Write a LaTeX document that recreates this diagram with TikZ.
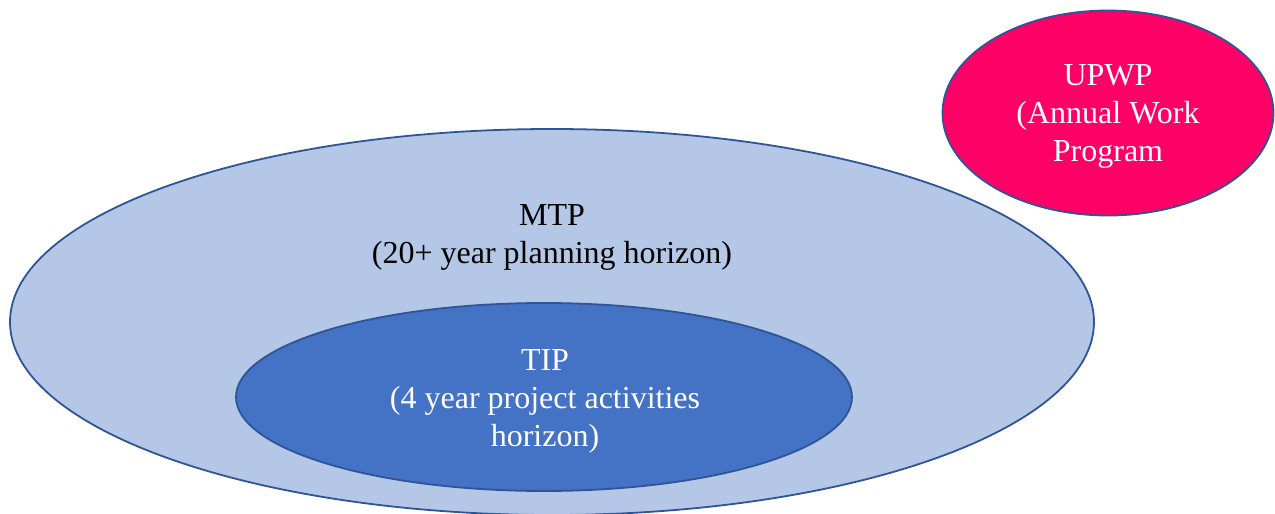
\documentclass[tikz,border=0pt]{standalone}
\usepackage{fontspec}
\setmainfont{Liberation Serif}
\usetikzlibrary{shapes.geometric}
\definecolor{edgeblue}{HTML}{2F5597}
\definecolor{paleblue}{HTML}{B4C7E7}
\definecolor{midblue}{HTML}{4472C4}
\definecolor{hotpink}{HTML}{FF0066}
\begin{document}
\begin{tikzpicture}[x=1pt,y=-1pt,
    ring/.style={ellipse,draw=edgeblue,line width=1.8pt,inner sep=0pt},
    caption/.style={align=center,font=\fontsize{32}{38}\selectfont}]
	\useasboundingbox (0,0) rectangle (1275,514);
	% planning horizons
	\node[ring,fill=paleblue,minimum width=1084,minimum height=386] (mtp) at (552,322) {};
	\node[ring,fill=midblue,minimum width=616,minimum height=188] (tip) at (544,397) {};
	\node[ring,fill=hotpink,minimum width=331,minimum height=205] (upwp) at (1108,113) {};
	% labels
	\node[caption] (mtptext) at (552,237) {MTP\\(20+ year planning horizon)};
	\node[caption,text=white] (tiptext) at (545,401) {TIP\\(4 year project activities\\horizon)};
	\node[caption,text=white] (upwptext) at (1108,116) {UPWP\\(Annual Work\\Program};
\end{tikzpicture}
\end{document}
